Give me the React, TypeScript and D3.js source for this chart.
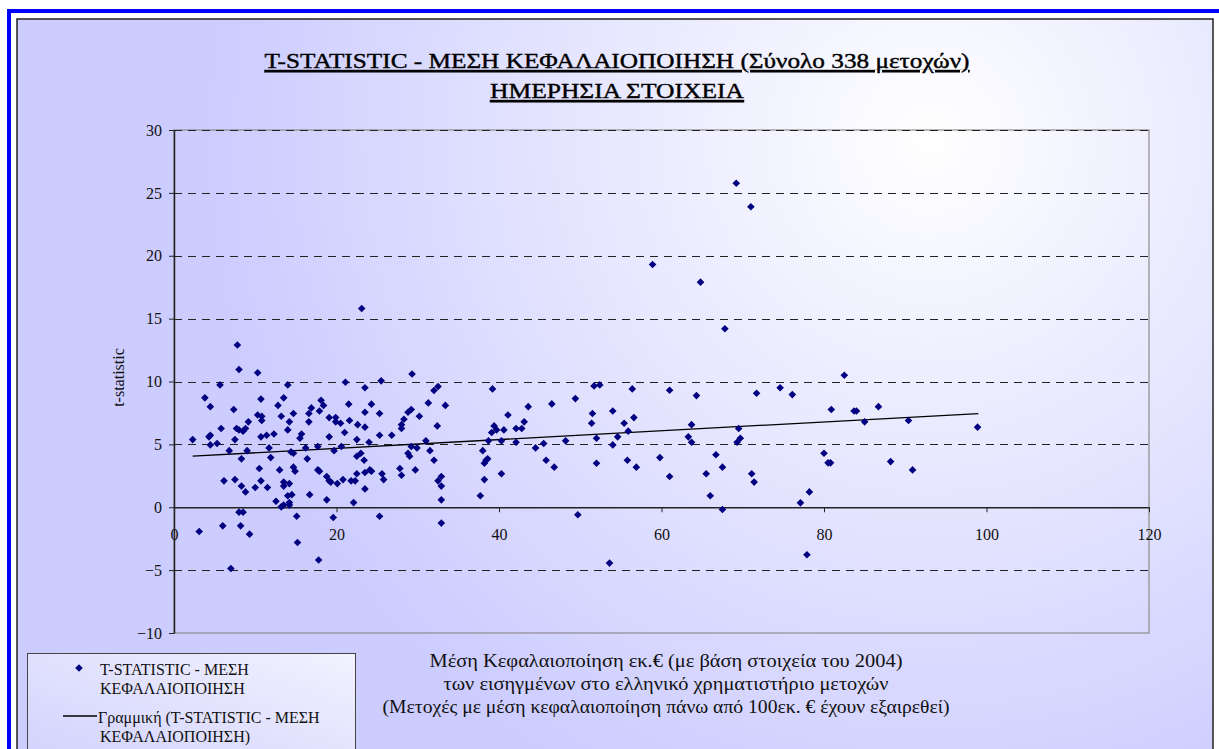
import React, { useEffect, useRef } from "react";
import * as d3 from "d3";

// average capitalisation (million EUR) and t-statistic, one entry per share
const capitalisation = [
  23.1, 7.8, 8.0, 10.3, 5.66, 14.0, 21.1, 23.5, 25.5, 29.3, 32.0, 32.5, 3.8, 10.7, 13.5, 18.1,
  4.47, 7.35, 12.8, 18.4, 21.5, 24.3, 25.3, 31.3, 33.4, 16.9, 16.6, 17.9, 14.7, 13.2, 10.3, 10.8,
  10.8, 9.15, 14.2, 16.6, 19.1, 19.9, 19.9, 20.5, 21.6, 22.6, 23.5, 23.5, 28.0, 28.0, 28.3, 28.8,
  29.2, 30.2, 32.4, 5.8, 7.7, 8.0, 8.5, 8.8, 4.3, 4.47, 2.3, 5.3, 4.47, 7.5, 10.7, 11.4, 12.3,
  14.0, 15.5, 15.7, 19.1, 21.0, 25.3, 26.8, 22.5, 24.0, 31.0, 6.8, 9.0, 11.7, 14.4, 14.7, 16.2,
  17.7, 19.7, 20.6, 22.5, 23.0, 23.4, 29.2, 29.9, 28.8, 29.0, 31.5, 32.0, 8.3, 11.9, 16.4, 10.5,
  13.0, 14.7, 14.9, 17.7, 17.9, 22.5, 23.5, 24.1, 24.3, 25.6, 25.8, 27.8, 28.0, 29.7, 32.9, 32.5,
  32.9, 32.9, 6.15, 7.5, 8.3, 8.8, 10.0, 10.7, 11.5, 13.5, 13.5, 14.2, 12.55, 13.2, 13.5, 14.0,
  14.2, 14.5, 14.2, 16.7, 18.8, 19.1, 18.8, 19.3, 20.1, 20.8, 21.8, 22.3, 22.1, 23.5, 25.3, 19.6,
  15.1, 8.0, 8.5, 3.1, 6.0, 8.2, 9.3, 15.2, 17.8, 7.0, 32.9,
  39.2, 51.7, 52.4, 56.4, 61.0, 64.3, 49.4, 46.5, 43.6, 41.1, 43.1, 39.4, 39.7, 39.1, 40.6, 42.1,
  42.8, 38.7, 40.3, 42.1, 38.0, 44.5, 45.5, 48.2, 51.5, 51.4, 52.0, 54.0, 54.6, 54.0, 55.4, 55.9,
  56.6, 38.6, 38.4, 38.2, 45.8, 46.8, 40.3, 38.2, 37.7, 52.0, 55.8, 56.9, 59.8, 61.0, 63.3, 63.7,
  63.7, 65.5, 66.0, 66.7, 67.5, 67.5, 69.5, 69.3, 49.7, 53.6,
  69.2, 58.9, 64.8, 67.8, 71.0, 82.5, 71.7, 74.6, 76.1,
  80.9, 83.7, 84.0, 86.7, 85.0, 90.4, 98.9, 69.7, 71.1, 71.4, 80.0, 80.5, 80.8, 88.2, 90.9, 78.2,
  77.1, 77.9,
];
const tStatistic = [
  15.8, 12.9, 10.95, 10.7, 9.73, 9.73, 9.94, 9.5, 10.05, 10.6, 9.28, 9.6, 8.7, 8.6, 8.7, 8.5,
  8.0, 7.77, 8.1, 8.1, 8.2, 8.2, 7.45, 8.3, 8.1, 7.9, 7.45, 7.66, 7.45, 7.24, 7.34, 7.24,
  6.9, 6.79, 6.79, 6.79, 7.13, 7.13, 6.79, 6.68, 6.9, 6.57, 7.56, 6.37, 6.57, 6.26, 7.0, 7.56,
  7.77, 7.24, 6.47, 6.26, 6.26, 6.15, 6.05, 6.26, 5.6, 5.73, 5.38, 5.07, 4.96, 5.38, 5.6, 5.73, 5.83,
  6.15, 5.49, 5.83, 5.6, 5.94, 5.73, 5.73, 5.38, 5.17, 5.28, 4.5, 4.5, 4.72, 4.4, 4.3, 4.72,
  4.83, 4.5, 4.83, 4.06, 4.3, 3.74, 4.83, 4.72, 4.3, 4.06, 4.5, 3.74, 3.85, 3.95, 3.85, 3.08,
  2.97, 3.19, 2.87, 2.97, 2.87, 2.66, 2.76, 2.97, 2.87, 2.66, 2.2, 3.08, 2.55, 2.97, 2.44, 2.1,
  1.68, 0.59, 2.1, 2.2, 1.68, 1.22, 1.57, 2.1, 1.57, 2.0, 1.68, 1.88, 0.48, 0.03, 0.17, 0.91,
  0.37, 1.0, 0.17, 1.0, 0.59, 2.1, 2.44, 2.0, 1.88, 2.2, 2.1, 2.1, 0.37, 1.46, -0.71, -0.82,
  -0.71, -0.39, -0.39, -1.93, -1.48, -1.48, -2.14, -2.8, -4.2, -4.87, -1.26,
  9.41, 9.65, 9.73, 9.41, 9.3, 8.88, 8.64, 8.22, 8.0, 7.34, 6.79, 6.47, 6.15, 5.94, 6.15, 6.26,
  6.26, 5.28, 5.28, 5.17, 4.5, 4.72, 5.07, 5.28, 7.45, 6.68, 5.49, 7.66, 5.6, 4.96, 6.68, 6.05,
  7.13, 3.85, 3.74, 3.5, 3.74, 3.19, 2.66, 2.2, 0.91, 3.5, 3.74, 3.19, 3.95, 2.44, 5.6, 6.57,
  5.17, 2.66, 0.91, 4.17, 3.19, -0.18, 6.26, 5.17, -0.6, -4.44,
  25.76, 19.3, 17.9, 14.2, 23.9, 10.5, 9.07, 9.5, 8.96,
  7.77, 7.66, 7.66, 8.0, 6.79, 6.9, 6.37, 5.49, 2.66, 2.0, 4.3, 3.53, 3.53, 3.63, 2.97, 1.22,
  0.35, -3.78,
];

// linear trend line end points (Excel "Γραμμική")
const trendX = [2.3, 99];
const trendY = [4.06, 7.45];

const xTicks = [0, 20, 40, 60, 80, 100, 120];
const yTicks = [-10, -5, 0, 5, 10, 15, 20, 25, 30];

const titleLines = [
  "T-STATISTIC - ΜΕΣΗ ΚΕΦΑΛΑΙΟΠΟΙΗΣΗ (Σύνολο 338 μετοχών)",
  "ΗΜΕΡΗΣΙΑ ΣΤΟΙΧΕΙΑ",
];
const noteLines = [
  "Μέση Κεφαλαιοποίηση εκ.€ (με βάση στοιχεία του 2004)",
  "των εισηγμένων στο ελληνικό χρηματιστήριο μετοχών",
  "(Μετοχές με μέση κεφαλαιοποίηση πάνω από 100εκ. € έχουν εξαιρεθεί)",
];
const seriesLabel = ["T-STATISTIC - ΜΕΣΗ", "ΚΕΦΑΛΑΙΟΠΟΙΗΣΗ"];
const trendLabel = ["Γραμμική (T-STATISTIC - ΜΕΣΗ", "ΚΕΦΑΛΑΙΟΠΟΙΗΣΗ)"];
const yTitle = "t-statistic";

const serif = "'Liberation Serif'";

export default function App() {
  const svgRef = useRef<SVGSVGElement>(null);

  useEffect(() => {
    const width = 1219;
    const height = 749;
    const plot = { left: 174, right: 1149, top: 130, bottom: 633 };

    const svg = d3.select(svgRef.current);
    svg.selectAll("*").remove();
    svg.attr("width", width).attr("height", height);

    const defs = svg.append("defs");
    const bg = defs
      .append("radialGradient")
      .attr("id", "bg")
      .attr("gradientUnits", "userSpaceOnUse")
      .attr("cx", 930)
      .attr("cy", 140)
      .attr("r", 720);
    bg.append("stop").attr("offset", 0).attr("stop-color", "#ffffff");
    bg.append("stop").attr("offset", 0.25).attr("stop-color", "#f2f2ff");
    bg.append("stop").attr("offset", 1).attr("stop-color", "#ccccff");

    const lg = defs
      .append("linearGradient")
      .attr("id", "lg")
      .attr("x1", 0)
      .attr("y1", 1)
      .attr("x2", 1)
      .attr("y2", 0);
    lg.append("stop").attr("offset", 0).attr("stop-color", "#d0d0fd");
    lg.append("stop").attr("offset", 1).attr("stop-color", "#f2f2ff");

    // frames
    svg.append("rect")
      .attr("x", 9).attr("y", 11)
      .attr("width", 1222).attr("height", 760)
      .attr("fill", "#ffffff")
      .attr("stroke", "#0000ff")
      .attr("stroke-width", 4);
    svg.append("rect")
      .attr("x", 17).attr("y", 19)
      .attr("width", 1196).attr("height", 760)
      .attr("fill", "url(#bg)")
      .attr("stroke", "#222")
      .attr("stroke-width", 1.5);

    // title
    svg.selectAll(".title")
      .data(titleLines)
      .join("text")
      .attr("class", "title")
      .attr("x", 617)
      .attr("y", (d, i) => 68 + i * 30)
      .attr("text-anchor", "middle")
      .attr("font-family", serif)
      .attr("font-size", 22)
      .attr("textLength", (d, i) => (i === 0 ? 705 : 254))
      .attr("lengthAdjust", "spacingAndGlyphs")
      .attr("text-decoration", "underline")
      .attr("stroke", "#000")
      .attr("stroke-width", 0.4)
      .attr("fill", "#000")
      .text((d) => d);

    const x = d3.scaleLinear().domain([0, 120]).range([plot.left, plot.right]);
    const y = d3.scaleLinear().domain([-10, 30]).range([plot.bottom, plot.top]);

    // plot area border
    svg.append("rect")
      .attr("x", plot.left).attr("y", plot.top)
      .attr("width", plot.right - plot.left)
      .attr("height", plot.bottom - plot.top)
      .attr("fill", "none")
      .attr("stroke", "#8c8c8c")
      .attr("stroke-width", 1.2);

    // dashed gridlines
    svg.append("g")
      .selectAll("line")
      .data(yTicks.filter((d) => d !== 0 && d !== -10))
      .join("line")
      .attr("x1", plot.left)
      .attr("x2", plot.right)
      .attr("y1", (d) => Math.round(y(d)) + 0.5)
      .attr("y2", (d) => Math.round(y(d)) + 0.5)
      .attr("stroke", "#222")
      .attr("stroke-width", 1)
      .attr("stroke-dasharray", "8 6");

    // y axis
    const yAxis = svg.append("g")
      .attr("transform", `translate(${plot.left},0)`)
      .call(d3.axisLeft(y).tickValues(yTicks).tickSize(5).tickSizeOuter(0).tickPadding(7))
      .attr("font-family", serif)
      .attr("font-size", 16);
    yAxis.select(".domain").attr("stroke", "#222").attr("stroke-width", 1.5);
    yAxis.selectAll("line").attr("stroke", "#222");
    yAxis.selectAll("text").attr("fill", "#111");

    // x axis drawn at t = 0
    const xAxis = svg.append("g")
      .attr("transform", `translate(0,${y(0)})`)
      .call(d3.axisBottom(x).tickValues(xTicks).tickSize(5).tickSizeOuter(0).tickPadding(16))
      .attr("font-family", serif)
      .attr("font-size", 16);
    xAxis.select(".domain").attr("stroke", "#222").attr("stroke-width", 1.5);
    xAxis.selectAll("line").attr("stroke", "#222");
    xAxis.selectAll("text").attr("fill", "#111");

    svg.append("text")
      .attr("transform", `translate(124,${(plot.top + plot.bottom) / 2 - 4}) rotate(-90)`)
      .attr("text-anchor", "middle")
      .attr("font-family", serif)
      .attr("font-size", 16)
      .attr("fill", "#111")
      .text(yTitle);

    // trend line
    svg.append("line")
      .attr("x1", x(trendX[0]))
      .attr("y1", y(trendY[0]))
      .attr("x2", x(trendX[1]))
      .attr("y2", y(trendY[1]))
      .attr("stroke", "#000")
      .attr("stroke-width", 1.3);

    // points
    const diamond = "M0,-3.8L3.8,0L0,3.8L-3.8,0Z";
    svg.append("g")
      .selectAll("path")
      .data(capitalisation.map((c, i) => [c, tStatistic[i]]))
      .join("path")
      .attr("d", diamond)
      .attr("transform", (d) => `translate(${x(d[0])},${y(d[1])})`)
      .attr("fill", "#000080");

    // axis note under the plot
    const noteWidths = [473, 445, 567];
    svg.selectAll(".note")
      .data(noteLines)
      .join("text")
      .attr("class", "note")
      .attr("x", 666)
      .attr("y", (d, i) => 667 + i * 23)
      .attr("text-anchor", "middle")
      .attr("font-family", serif)
      .attr("font-size", 19)
      .attr("textLength", (d, i) => noteWidths[i])
      .attr("lengthAdjust", "spacingAndGlyphs")
      .attr("fill", "#111")
      .text((d) => d);

    // legend
    const legend = svg.append("g");
    legend.append("rect")
      .attr("x", 27.5).attr("y", 653.5)
      .attr("width", 328).attr("height", 120)
      .attr("fill", "url(#lg)")
      .attr("stroke", "#444");
    legend.append("path")
      .attr("d", diamond)
      .attr("transform", "translate(79,668)")
      .attr("fill", "#000080");
    legend.append("line")
      .attr("x1", 63).attr("x2", 97)
      .attr("y1", 716).attr("y2", 716)
      .attr("stroke", "#000")
      .attr("stroke-width", 1.3);
    legend.selectAll(".l1")
      .data(seriesLabel)
      .join("text")
      .attr("class", "l1")
      .attr("x", 100)
      .attr("y", (d, i) => 675 + i * 19)
      .attr("font-family", serif)
      .attr("font-size", 16)
      .attr("fill", "#111")
      .text((d) => d);
    legend.selectAll(".l2")
      .data(trendLabel)
      .join("text")
      .attr("class", "l2")
      .attr("x", (d, i) => (i === 0 ? 98 : 100))
      .attr("y", (d, i) => 723 + i * 19)
      .attr("font-family", serif)
      .attr("font-size", 16)
      .attr("fill", "#111")
      .text((d) => d);
  }, []);

  return (
    <svg
      ref={svgRef}
      style={{ position: "absolute", left: 0, top: 0, display: "block" }}
    />
  );
}
